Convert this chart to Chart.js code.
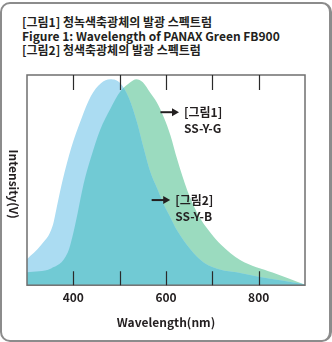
<!DOCTYPE html>
<html>
<head>
<meta charset="utf-8">
<script src="https://cdn.jsdelivr.net/npm/chart.js@4/dist/chart.umd.min.js"></script>
<style>
  body { margin: 0; background: #fff; }
  #wrap { position: relative; width: 332px; height: 342px; overflow: hidden; }
  #frame {
    position: absolute; left: 0; top: 2px; width: 327px; height: 336px;
    border: 2px solid #8c8c8c; border-right-width: 3px; border-radius: 10px;
  }
  #head {
    position: absolute; left: 22px; top: 15px;
    font: bold 12px "Noto Sans CJK KR", sans-serif; line-height: 14px; color: #231f20;
    white-space: nowrap;
  }
  canvas { position: absolute; left: 0; top: 0; }
</style>
</head>
<body>
<div id="wrap">
  <div id="frame"></div>
  <div id="head">
    <div>[그림1] 청녹색축광체의 발광 스펙트럼</div>
    <div>Figure 1: Wavelength of PANAX Green FB900</div>
    <div>[그림2] 청색축광체의 발광 스펙트럼</div>
  </div>
  <canvas id="chart" width="332" height="342"></canvas>
</div>
<script>
// 스펙트럼 데이터 (파장 nm / 상대 세기)
const blueNm  = [300, 330, 355, 366, 377, 395, 417, 438, 459, 480, 502, 520, 538, 552, 566, 581, 595, 610, 624, 653, 682, 718, 752, 800, 850, 900];
const blueVal = [0.124, 0.19, 0.28, 0.39, 0.50, 0.65, 0.79, 0.90, 0.96, 0.98, 0.96, 0.89, 0.77, 0.65, 0.54, 0.46, 0.385, 0.32, 0.26, 0.17, 0.107, 0.074, 0.062, 0.04, 0.022, 0.004];

const greenNm  = [300, 352, 388, 398, 409, 422, 437, 458, 480, 501, 523, 536, 550, 566, 580, 595, 610, 624, 646, 668, 696, 720, 760, 830, 900];
const greenVal = [0.062, 0.08, 0.155, 0.23, 0.34, 0.48, 0.60, 0.74, 0.84, 0.92, 0.965, 0.98, 0.965, 0.915, 0.87, 0.80, 0.71, 0.60, 0.45, 0.34, 0.25, 0.19, 0.12, 0.06, 0.002];

const tickNm = [400, 500, 600, 700, 800];
const labelNm = [400, 600, 800];

const seriesNames = ['SS-Y-B', 'SS-Y-G'];

const toPoints = (xs, ys) => xs.map((x, i) => ({ x: x, y: ys[i] }));

const FONT = '"Noto Sans CJK KR", sans-serif';
const TEXT = '#231f20';
const TEAL = '#71cad4';

// 라벨과 화살표 (데이터 좌표)
const notes = [
  { from: 588, to: 628, y: 0.823, lines: ['[그림1]', 'SS-Y-G'] },
  { from: 569, to: 609, y: 0.405, lines: ['[그림2]', 'SS-Y-B'] }
];

const extras = {
  id: 'extras',
  afterDatasetsDraw(chart) {
    const ctx = chart.ctx;
    const a = chart.chartArea;
    const xs = chart.scales.x, ys = chart.scales.y;
    const yb = ys.getPixelForValue(0);

    // 겹치는 영역 (청록색)
    const bLine = chart.getDatasetMeta(0).dataset;
    const gLine = chart.getDatasetMeta(1).dataset;
    const closeTo = (line) => {
      const pts = line.points;
      ctx.lineTo(pts[pts.length - 1].x, yb);
      ctx.lineTo(pts[0].x, yb);
      ctx.closePath();
    };
    ctx.save();
    ctx.beginPath();
    ctx.rect(a.left, a.top, a.right - a.left, a.bottom - a.top);
    ctx.clip();
    ctx.beginPath();
    gLine.path(ctx);
    closeTo(gLine);
    ctx.clip();
    ctx.beginPath();
    bLine.path(ctx);
    closeTo(bLine);
    ctx.fillStyle = TEAL;
    ctx.fill();
    ctx.restore();

    // 테두리와 눈금
    ctx.save();
    ctx.strokeStyle = '#6f6f6f';
    ctx.lineWidth = 1.5;
    ctx.strokeRect(a.left, a.top, a.right - a.left, a.bottom - a.top);
    ctx.strokeStyle = '#2a2a2a';
    ctx.lineWidth = 1.2;
    tickNm.forEach(v => {
      const px = Math.round(xs.getPixelForValue(v)) + 0.5;
      ctx.beginPath();
      ctx.moveTo(px, a.top);
      ctx.lineTo(px, a.top + 15);
      ctx.moveTo(px, a.bottom);
      ctx.lineTo(px, a.bottom - 14);
      ctx.stroke();
    });

    // 화살표와 라벨
    ctx.fillStyle = TEXT;
    ctx.strokeStyle = TEXT;
    ctx.font = 'bold 12px ' + FONT;
    ctx.textBaseline = 'middle';
    notes.forEach(n => {
      const x0 = xs.getPixelForValue(n.from);
      const x1 = xs.getPixelForValue(n.to);
      const y = ys.getPixelForValue(n.y);
      ctx.lineWidth = 2;
      ctx.beginPath();
      ctx.moveTo(x0, y);
      ctx.lineTo(x1 - 6, y);
      ctx.stroke();
      ctx.beginPath();
      ctx.moveTo(x1, y);
      ctx.lineTo(x1 - 7, y - 4);
      ctx.lineTo(x1 - 7, y + 4);
      ctx.closePath();
      ctx.fill();
      ctx.fillText(n.lines[0], x1 + 5, y);
      ctx.fillText(n.lines[1], x1 + 5, y + 16.5);
    });

    // 세로축 제목 (시계방향 회전)
    ctx.translate(13.5, (a.top + a.bottom) / 2 + 4);
    ctx.rotate(Math.PI / 2);
    ctx.textAlign = 'center';
    ctx.fillText('Intensity(V)', 0, 0);
    ctx.restore();
  }
};

new Chart(document.getElementById('chart').getContext('2d'), {
  type: 'line',
  data: {
    datasets: [
      {
        label: seriesNames[0],
        data: toPoints(blueNm, blueVal),
        backgroundColor: '#abdcf2',
        borderWidth: 0,
        pointRadius: 0,
        fill: 'origin',
        cubicInterpolationMode: 'monotone'
      },
      {
        label: seriesNames[1],
        data: toPoints(greenNm, greenVal),
        backgroundColor: '#9bdbbf',
        borderWidth: 0,
        pointRadius: 0,
        fill: 'origin',
        cubicInterpolationMode: 'monotone'
      }
    ]
  },
  options: {
    responsive: false,
    devicePixelRatio: 1,
    animation: false,
    layout: { padding: { left: 27, right: 27, top: 75, bottom: 12 } },
    plugins: {
      legend: { display: false },
      tooltip: { enabled: false }
    },
    scales: {
      x: {
        type: 'linear',
        min: 300,
        max: 900,
        border: { display: false },
        grid: { display: false, drawTicks: false },
        ticks: {
          stepSize: 100,
          autoSkip: false,
          maxRotation: 0,
          padding: 5,
          color: TEXT,
          font: { family: FONT, size: 12, weight: 'bold' },
          callback: v => labelNm.includes(v) ? String(v) : ''
        },
        title: {
          display: true,
          text: 'Wavelength(nm)',
          color: TEXT,
          font: { family: FONT, size: 12, weight: 'bold' },
          padding: { top: 6, bottom: 0 }
        }
      },
      y: { display: false, min: 0, max: 1 }
    }
  },
  plugins: [extras]
});
</script>
</body>
</html>
